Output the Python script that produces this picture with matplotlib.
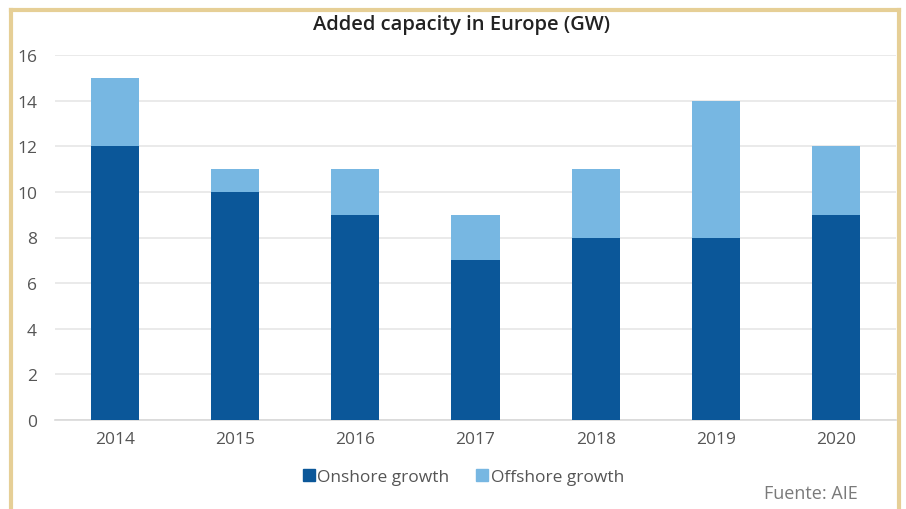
import matplotlib
matplotlib.use("Agg")
import matplotlib.pyplot as plt
from matplotlib.lines import Line2D

plt.rcParams['font.family'] = ['Open Sans', 'DejaVu Sans']

years = ["2014", "2015", "2016", "2017", "2018", "2019", "2020"]
onshore = [12, 10, 9, 7, 8, 8, 9]
offshore = [3, 1, 2, 2, 3, 6, 3]
yticks = [0, 2, 4, 6, 8, 10, 12, 14, 16]

c_on = "#0b5799"
c_off = "#77b7e2"
txt = "#555555"

fig = plt.figure(figsize=(9.06, 5.10), dpi=100)
ax = fig.add_axes([55/906, 1-421/510, (896-55)/906, (421-56)/510])

x = list(range(len(years)))
ax.bar(x, onshore, width=0.4, color=c_on, zorder=3, label="Onshore growth")
ax.bar(x, offshore, width=0.4, bottom=onshore, color=c_off, zorder=3, label="Offshore growth")

ax.set_xlim(-0.5, 6.5)
ax.set_ylim(0, 16)
ax.set_yticks(yticks)
ax.set_xticks(x)
ax.set_xticklabels(years)
ax.yaxis.grid(True, color="#e6e6e6", linewidth=1.2, zorder=0)
ax.set_axisbelow(True)
for s in ["top", "right", "left"]:
    ax.spines[s].set_visible(False)
ax.spines["bottom"].set_color("#d9d9d9")
ax.spines["bottom"].set_linewidth(1.2)
ax.tick_params(axis="both", length=0, labelsize=12.5, colors=txt)
ax.tick_params(axis="y", pad=13)
ax.tick_params(axis="x", pad=8)

fig.text(461/906, 1-25/510, "Added capacity in Europe (GW)", ha="center", va="center",
         fontsize=14.5, color="#222222", fontweight="semibold")

handles = [Line2D([], [], marker="s", linestyle="none", markersize=8, color=c_on),
           Line2D([], [], marker="s", linestyle="none", markersize=8, color=c_off)]
fig.legend(handles, ["Onshore growth", "Offshore growth"], loc="center",
           bbox_to_anchor=(463/906, 1-478/510), ncol=2, frameon=False,
           fontsize=12.5, labelcolor=txt, handletextpad=0.1, columnspacing=1.5,
           handlelength=0.8)

fig.text(858/906, 1-494/510, "Fuente: AIE", ha="right", va="center",
         fontsize=13, color="#7a7a7a")

gold = "#e6cf96"
fig.add_artist(Line2D([11/906, 11/906], [0, 1-11/510], color=gold, linewidth=3,
                      transform=fig.transFigure))
fig.add_artist(Line2D([11/906, 899/906], [1-11/510, 1-11/510], color=gold, linewidth=3,
                      transform=fig.transFigure))
fig.add_artist(Line2D([899/906, 899/906], [0, 1-11/510], color=gold, linewidth=3,
                      transform=fig.transFigure))

fig.savefig("out.png", dpi=100, facecolor="white")
